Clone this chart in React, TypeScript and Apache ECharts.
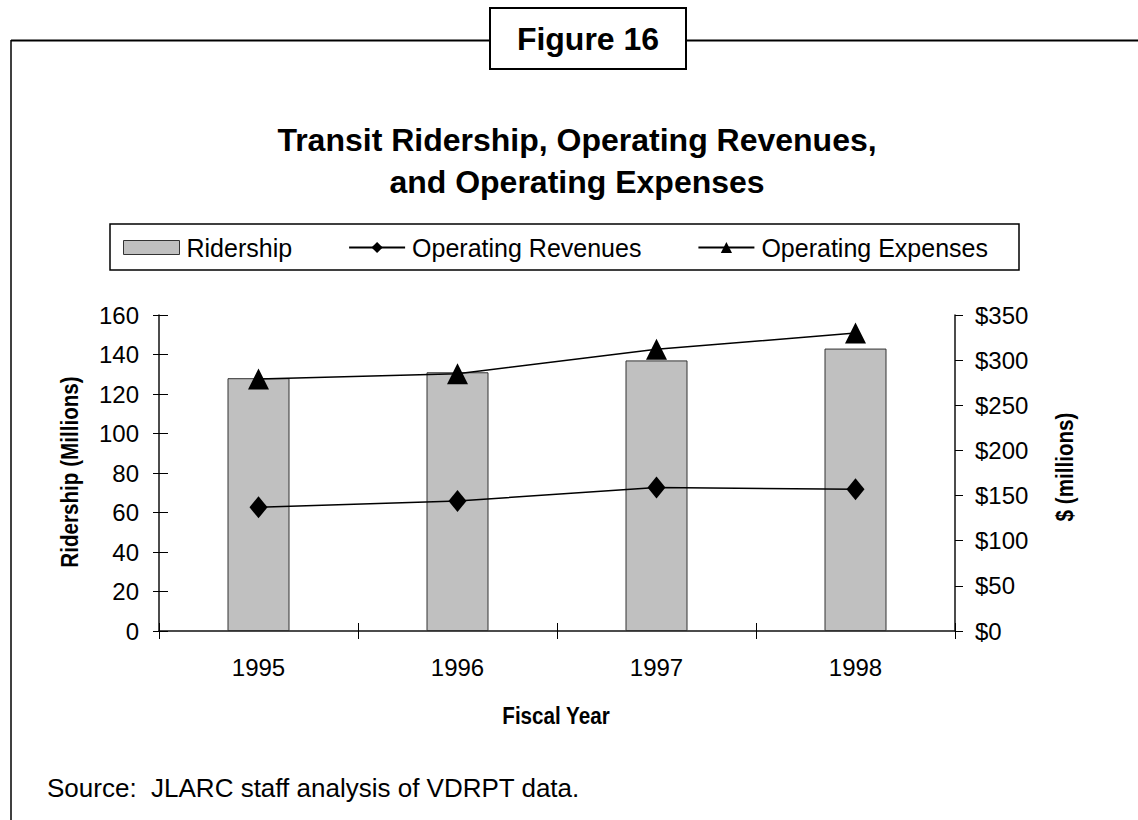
import React, { useEffect, useRef } from "react";
import * as echarts from "echarts";

const years = ["1995", "1996", "1997", "1998"];
const ridership = [128, 131, 137, 143];
const revenues = [137, 144, 159, 157];
const expenses = [279, 285, 312, 330];

const FONT = "'Liberation Sans', Arial, sans-serif";

export default function App() {
  const ref = useRef<HTMLDivElement>(null);
  useEffect(() => {
    document.body.style.margin = "0";
    const chart = echarts.init(ref.current!, null, { renderer: "svg" });
    const gridL = 159, gridT = 315, gridR = 955, gridB = 631;
    chart.setOption({
      animation: false,
      backgroundColor: "#fff",
      textStyle: { fontFamily: FONT, color: "#000" },
      grid: { left: gridL, top: gridT, width: gridR - gridL, height: gridB - gridT },
      legend: {
        left: 123,
        top: 235,
        padding: 0,
        itemGap: 56,
        itemWidth: 56,
        itemHeight: 14,
        textStyle: { fontFamily: FONT, fontSize: 25, color: "#000", padding: [0, 0, 0, 2] },
        data: [
          { name: "Ridership", icon: "rect", itemStyle: { color: "#c0c0c0", borderColor: "#333", borderWidth: 1 } },
          { name: "Operating Revenues" },
          { name: "Operating Expenses" },
        ],
      },
      xAxis: [
        {
          type: "category",
          data: years,
          axisLine: { lineStyle: { color: "#111", width: 1.5 } },
          axisTick: { show: true, length: 8, lineStyle: { color: "#000" } },
          axisLabel: { fontSize: 24, color: "#000", margin: 24, fontFamily: FONT },
        },
        {
          type: "category",
          data: years,
          position: "bottom",
          axisLine: { show: false },
          axisTick: { show: true, inside: true, length: 8, lineStyle: { color: "#000" } },
          axisLabel: { show: false },
        },
      ],
      yAxis: [
        {
          type: "value", min: 0, max: 160, interval: 20, position: "left",
          axisLine: { show: true, lineStyle: { color: "#111", width: 1.5 } },
          axisTick: { show: true, length: 6, lineStyle: { color: "#000" } },
          axisLabel: { fontSize: 24, color: "#000", margin: 20, fontFamily: FONT },
          splitLine: { show: false },
        },
        {
          type: "value", min: 0, max: 350, interval: 50, position: "right",
          axisLine: { show: true, lineStyle: { color: "#111", width: 1.5 } },
          axisTick: { show: true, length: 8, lineStyle: { color: "#000" } },
          axisLabel: { fontSize: 24, color: "#000", margin: 20, fontFamily: FONT, formatter: (v: number) => "$" + v },
          splitLine: { show: false },
        },
        {
          type: "value", min: 0, max: 160, interval: 20, position: "left",
          axisLine: { show: false },
          axisTick: { show: true, inside: true, length: 9, lineStyle: { color: "#000" } },
          axisLabel: { show: false },
          splitLine: { show: false },
        },
      ],
      series: [
        {
          name: "Ridership",
          type: "bar",
          data: ridership,
          barWidth: 62,
          itemStyle: { color: "#c0c0c0", borderColor: "#333", borderWidth: 1 },
        },
        {
          name: "Operating Revenues",
          type: "line",
          yAxisIndex: 1,
          data: revenues,
          symbol: "diamond",
          symbolSize: [18, 22],
          lineStyle: { color: "#000", width: 1.5 },
          itemStyle: { color: "#000" },
        },
        {
          name: "Operating Expenses",
          type: "line",
          yAxisIndex: 1,
          data: expenses,
          symbol: "triangle",
          symbolSize: [21, 21],
          lineStyle: { color: "#000", width: 1.5 },
          itemStyle: { color: "#000" },
        },
      ],
      graphic: [
        { type: "line", shape: { x1: 11, y1: 40.5, x2: 490, y2: 40.5 }, style: { stroke: "#000", lineWidth: 2 } },
        { type: "line", shape: { x1: 686, y1: 40.5, x2: 1138, y2: 40.5 }, style: { stroke: "#000", lineWidth: 2 } },
        { type: "line", shape: { x1: 11, y1: 40, x2: 11, y2: 820 }, style: { stroke: "#000", lineWidth: 1.5 } },
        { type: "rect", shape: { x: 490, y: 8, width: 196, height: 61 }, style: { fill: "#fff", stroke: "#000", lineWidth: 2 } },
        { type: "text", x: 588, y: 39, style: { text: "Figure 16", font: `bold 32px ${FONT}`, fill: "#000", align: "center", verticalAlign: "middle" } },
        { type: "text", x: 577, y: 140, style: { text: "Transit Ridership, Operating Revenues,", font: `bold 32px ${FONT}`, fill: "#000", align: "center", verticalAlign: "middle" } },
        { type: "text", x: 577, y: 182, style: { text: "and Operating Expenses", font: `bold 32px ${FONT}`, fill: "#000", align: "center", verticalAlign: "middle" } },
        { type: "rect", shape: { x: 110, y: 224, width: 909, height: 46 }, style: { fill: "none", stroke: "#000", lineWidth: 1.5 }, z: -1 },
        { type: "text", x: 70, y: 472, rotation: Math.PI / 2, scaleX: 0.86, style: { text: "Ridership (Millions)", font: `bold 24px ${FONT}`, fill: "#000", align: "center", verticalAlign: "middle" } },
        { type: "text", x: 1065, y: 467, rotation: Math.PI / 2, scaleX: 0.86, style: { text: "$ (millions)", font: `bold 24px ${FONT}`, fill: "#000", align: "center", verticalAlign: "middle" } },
        { type: "text", x: 556, y: 716, scaleX: 0.86, style: { text: "Fiscal Year", font: `bold 24px ${FONT}`, fill: "#000", align: "center", verticalAlign: "middle" } },
        { type: "text", x: 47, y: 788, style: { text: "Source:  JLARC staff analysis of VDRPT data.", font: `26px ${FONT}`, fill: "#000", align: "left", verticalAlign: "middle" } },
      ],
    });
    return () => chart.dispose();
  }, []);
  return <div ref={ref} style={{ width: 1138, height: 820 }} />;
}
